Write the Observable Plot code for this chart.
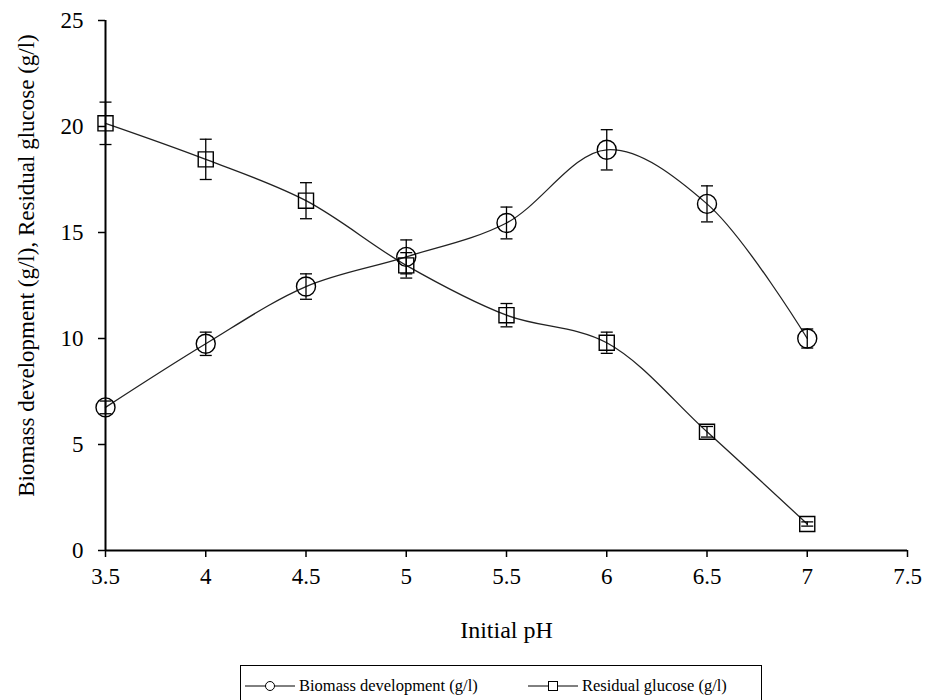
<!DOCTYPE html>
<html>
<head>
<meta charset="utf-8">
<script src="https://cdn.jsdelivr.net/npm/d3@7"></script>
<script src="https://cdn.jsdelivr.net/npm/@observablehq/plot@0.6"></script>
<style>
  html, body { margin: 0; padding: 0; background: #fff; }
  #wrap { position: relative; width: 933px; height: 700px; overflow: hidden; font-family: "Liberation Serif", "Times New Roman", "DejaVu Serif", serif; }
  #chart svg, #chart svg text { font-family: "Liberation Serif", "Times New Roman", "DejaVu Serif", serif !important; }
  #legend { position: absolute; left: 240px; top: 665px; width: 522px; height: 60px; border: 1px solid #000; box-sizing: border-box; }
  .item { position: absolute; top: 10px; display: flex; align-items: center; font-size: 16.5px; color: #000; }
  .item svg { margin-right: 4px; }
</style>
</head>
<body>
<div id="wrap">
  <div id="chart"></div>
  <div id="legend"></div>
</div>
<script>
const pH = [3.5, 4, 4.5, 5, 5.5, 6, 6.5, 7];
const biomass = [6.75, 9.75, 12.45, 13.85, 15.45, 18.9, 16.35, 10.0];
const biomassErr = [0.3, 0.55, 0.6, 0.8, 0.75, 0.95, 0.85, 0.45];
const glucose = [20.15, 18.45, 16.5, 13.45, 11.1, 9.8, 5.6, 1.25];
const glucoseErr = [1.0, 0.95, 0.85, 0.6, 0.55, 0.5, 0.25, 0.1];
const xTicks = [3.5, 4, 4.5, 5, 5.5, 6, 6.5, 7, 7.5];
const yTicks = [0, 5, 10, 15, 20, 25];
const seriesNames = ["Biomass development (g/l)", "Residual glucose (g/l)"];
const xTitle = "Initial pH";
const yTitle = "Biomass development (g/l), Residual glucose (g/l)";

const bio = pH.map((x, i) => ({x, y: biomass[i], e: biomassErr[i]}));
const glu = pH.map((x, i) => ({x, y: glucose[i], e: glucoseErr[i]}));

const capSymbol = {
  draw(ctx, size) {
    const w = Math.sqrt(size / Math.PI);
    ctx.moveTo(-w, 0);
    ctx.lineTo(w, 0);
  }
};

const errMarks = (data) => [
  Plot.ruleX(data, {x: "x", y1: d => d.y - d.e, y2: d => d.y + d.e, stroke: "#000", strokeWidth: 1.3}),
  Plot.dot(data, {x: "x", y: d => d.y - d.e, symbol: capSymbol, r: 6, stroke: "#000", strokeWidth: 1.3}),
  Plot.dot(data, {x: "x", y: d => d.y + d.e, symbol: capSymbol, r: 6, stroke: "#000", strokeWidth: 1.3})
];

const chart = Plot.plot({
  width: 933,
  height: 650,
  marginLeft: 105,
  marginRight: 26,
  marginTop: 20,
  marginBottom: 100,
  style: {fontFamily: "'Liberation Serif', 'Times New Roman', serif", fontSize: "23px", color: "#000", background: "#fff"},
  x: {domain: [3.5, 7.5]},
  y: {domain: [0, 25]},
  marks: [
    Plot.axisX({ticks: xTicks, tickSize: 7, tickPadding: 10, tickFormat: d => String(d), strokeWidth: 1.5, fontSize: 23, label: null}),
    Plot.axisY({ticks: yTicks, tickSize: 7, tickPadding: 15, strokeWidth: 1.5, fontSize: 23, label: null}),
    Plot.text([xTitle], {text: d => d, frameAnchor: "bottom", textAnchor: "middle", lineAnchor: "middle", dy: 80, fontSize: 24, fill: "#000"}),
    Plot.text([yTitle], {text: d => d, frameAnchor: "left", textAnchor: "middle", lineAnchor: "middle", rotate: -90, dx: -79, dy: -20, fontSize: 23, fill: "#000"}),
    Plot.line(bio, {x: "x", y: "y", curve: "catmull-rom", stroke: "#222", strokeWidth: 1.3}),
    Plot.line(glu, {x: "x", y: "y", curve: "catmull-rom", stroke: "#222", strokeWidth: 1.3}),
    ...errMarks(bio),
    ...errMarks(glu),
    Plot.dot(bio, {x: "x", y: "y", symbol: "circle", r: 9.5, stroke: "#000", strokeWidth: 1.4, fill: "none"}),
    Plot.dot(glu, {x: "x", y: "y", symbol: "square", r: 8.5, stroke: "#000", strokeWidth: 1.4, fill: "none"}),
    Plot.ruleX([3.5], {stroke: "#000", strokeWidth: 2}),
    Plot.ruleY([0], {stroke: "#000", strokeWidth: 2})
  ]
});
document.getElementById("chart").appendChild(chart);

// legend
const legend = document.getElementById("legend");
const items = [
  {name: seriesNames[0], shape: "circle", left: 4},
  {name: seriesNames[1], shape: "square", left: 287}
];
items.forEach(it => {
  const div = document.createElement("div");
  div.className = "item";
  div.style.left = it.left + "px";
  const sym = d3.create("svg").attr("width", 50).attr("height", 16);
  sym.append("line").attr("x1", 0).attr("x2", 50).attr("y1", 8).attr("y2", 8).attr("stroke", "#000").attr("stroke-width", 1);
  if (it.shape === "circle") sym.append("circle").attr("cx", 25).attr("cy", 8).attr("r", 4.5).attr("fill", "#fff").attr("stroke", "#000");
  else sym.append("rect").attr("x", 20.5).attr("y", 3.5).attr("width", 9).attr("height", 9).attr("fill", "#fff").attr("stroke", "#000");
  div.appendChild(sym.node());
  const span = document.createElement("span");
  span.textContent = it.name;
  div.appendChild(span);
  legend.appendChild(div);
});
</script>
</body>
</html>
